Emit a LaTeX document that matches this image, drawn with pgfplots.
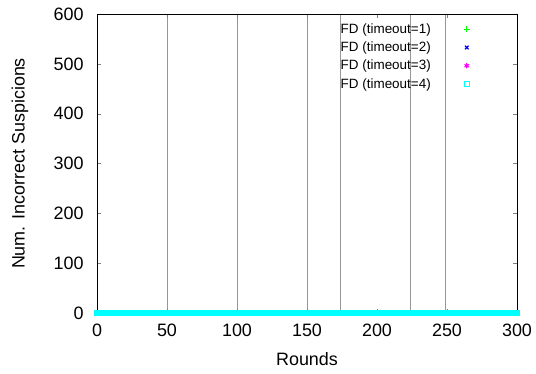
\documentclass[border=0pt]{standalone}
\usepackage{pgfplots}
\pgfplotsset{compat=1.18}
\usepackage{pgfplotstable}
\usepackage{fontspec}
\setmainfont{Liberation Sans}
\definecolor{gpgreen}{RGB}{0,255,0}
\definecolor{gpblue}{RGB}{0,0,255}
\definecolor{gpmagenta}{RGB}{255,0,255}
\definecolor{gpcyan}{RGB}{0,255,255}
\definecolor{vline}{RGB}{150,150,150}
\pgfplotstableread[row sep=\\]{
x y\\
0 0\\2 0\\4 0\\6 0\\8 0\\10 0\\12 0\\14 0\\16 0\\18 0\\20 0\\22 0\\24 0\\26 0\\28 0\\30 0\\32 0\\34 0\\36 0\\38 0\\40 0\\42 0\\44 0\\46 0\\48 0\\50 0\\
52 0\\54 0\\56 0\\58 0\\60 0\\62 0\\64 0\\66 0\\68 0\\70 0\\72 0\\74 0\\76 0\\78 0\\80 0\\82 0\\84 0\\86 0\\88 0\\90 0\\92 0\\94 0\\96 0\\98 0\\100 0\\
102 0\\104 0\\106 0\\108 0\\110 0\\112 0\\114 0\\116 0\\118 0\\120 0\\122 0\\124 0\\126 0\\128 0\\130 0\\132 0\\134 0\\136 0\\138 0\\140 0\\142 0\\144 0\\146 0\\148 0\\150 0\\
152 0\\154 0\\156 0\\158 0\\160 0\\162 0\\164 0\\166 0\\168 0\\170 0\\172 0\\174 0\\176 0\\178 0\\180 0\\182 0\\184 0\\186 0\\188 0\\190 0\\192 0\\194 0\\196 0\\198 0\\200 0\\
202 0\\204 0\\206 0\\208 0\\210 0\\212 0\\214 0\\216 0\\218 0\\220 0\\222 0\\224 0\\226 0\\228 0\\230 0\\232 0\\234 0\\236 0\\238 0\\240 0\\242 0\\244 0\\246 0\\248 0\\250 0\\
252 0\\254 0\\256 0\\258 0\\260 0\\262 0\\264 0\\266 0\\268 0\\270 0\\272 0\\274 0\\276 0\\278 0\\280 0\\282 0\\284 0\\286 0\\288 0\\290 0\\292 0\\294 0\\296 0\\298 0\\300 0\\
}\rounds
\begin{document}
\begin{tikzpicture}
\begin{axis}[
  scale only axis,
  width=420bp, height=299bp,
  xmin=0, xmax=300, ymin=0, ymax=600,
  xtick={0,50,...,300}, ytick={0,100,...,600},
  tick align=inside, tickpos=both,
  major tick length=4bp,
  axis on top,
  axis line style={line width=0.9bp},
  /pgf/number format/assume math mode=true,
  ticklabel style={font=\fontsize{18}{21}\selectfont},
  xticklabel style={yshift=-7bp},
  yticklabel style={xshift=-10bp},
  label style={font=\fontsize{18}{21}\selectfont},
  xlabel={Rounds}, ylabel={Num. Incorrect Suspicions},
  xlabel style={at={(axis description cs:0.5,-0.1538)}, anchor=center},
  ylabel style={at={(axis description cs:-0.1833,0.5)}, anchor=center},
  clip=false,
  legend cell align=left,
  legend plot pos=right,
  legend style={draw=none, fill=none, at={(0.575,0.975)}, anchor=north west,
    font=\fontsize{13.5}{16}\selectfont, row sep=3bp,
    inner sep=0pt},
  legend image code/.code={\path[draw=none,fill=none] (0bp,0bp) (40bp,0bp); \draw[#1] plot coordinates {(34bp,0bp)};},
]
\addplot[vline, line width=0.8bp, forget plot] coordinates {(50,0)(50,600)};
\addplot[vline, line width=0.8bp, forget plot] coordinates {(100,0)(100,600)};
\addplot[vline, line width=0.8bp, forget plot] coordinates {(150,0)(150,600)};
\addplot[vline, line width=0.8bp, forget plot] coordinates {(174,0)(174,600)};
\addplot[vline, line width=0.8bp, forget plot] coordinates {(224,0)(224,600)};
\addplot[vline, line width=0.8bp, forget plot] coordinates {(249,0)(249,600)};
\addplot[only marks, gpgreen, mark=+, mark size=3bp, mark options={line width=1.1bp}] table {\rounds};
\addlegendentry{FD (timeout=1)}
\addplot[only marks, gpblue, mark=x, mark size=2.6bp, mark options={line width=1.1bp}] table {\rounds};
\addlegendentry{FD (timeout=2)}
\addplot[only marks, gpmagenta, mark=asterisk, mark size=2.6bp, mark options={line width=1.1bp}] table {\rounds};
\addlegendentry{FD (timeout=3)}
\addplot[only marks, gpcyan, mark=square*, mark size=2.5bp, mark options={fill=gpcyan}, forget plot] table {\rounds};
\addlegendimage{only marks, gpcyan, mark=square, mark size=2.6bp, mark options={line width=1.1bp}}
\addlegendentry{FD (timeout=4)}
\end{axis}
\pgfresetboundingbox
\path (-97bp,-61bp) rectangle (439bp,313bp);
\end{tikzpicture}
\end{document}
